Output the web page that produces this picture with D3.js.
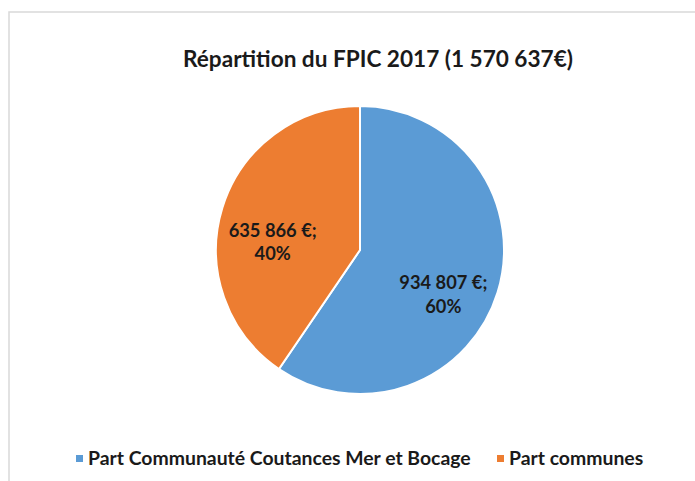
<!DOCTYPE html>
<html>
<head>
<meta charset="utf-8">
<script src="https://cdn.jsdelivr.net/npm/d3@7"></script>
<style>
  body { margin:0; background:#fff; }
  text { font-family: Lato, "Open Sans", sans-serif; font-weight:bold; fill:#1a1a1a; }
</style>
</head>
<body>
<div class="canvas"></div>
<script>
/* FPIC 2017 pie */

var categories = ["Part Communauté Coutances Mer et Bocage", "Part communes"];
var values = [934807, 635866];
var valueLabels = ["934 807 €;", "635 866 €;"];
var pctLabels = ["60%", "40%"];
var colors = ["#5B9BD5", "#ED7D31"];
var title = "Répartition du FPIC 2017 (1 570 637€)";

var width = 695, height = 481;
var cx = 360, cy = 250, r = 144;

var svg = d3.select('.canvas')
    .append('svg')
    .attr('width', width)
    .attr('height', height);

// chart frame (only top/left visible in the crop)
svg.append('rect')
    .attr('x', 9).attr('y', 12)
    .attr('width', 720).attr('height', 500)
    .style('fill', 'none')
    .style('stroke', '#d9d9d9')
    .style('stroke-width', 1.5);

svg.append('text')
    .attr('x', 378).attr('y', 67)
    .attr('text-anchor', 'middle')
    .style('font-size', '22.6px')
    .text(title);

var data = categories.map(function(c, i){
    return {name:c, value:values[i], label:valueLabels[i], pct:pctLabels[i], color:colors[i]};
});

var pie = d3.pie().sort(null).value(function(d){ return d.value; });
var arc = d3.arc().innerRadius(0).outerRadius(r);
var labelArc = d3.arc().innerRadius(r*0.62).outerRadius(r*0.62);

var g = svg.append('g')
    .attr('transform', 'translate(' + cx + ',' + cy + ')');

var slices = pie(data);

g.selectAll('path')
    .data(slices)
    .enter()
    .append('path')
    .attr('d', arc)
    .style('fill', function(d){ return d.data.color; })
    .style('stroke', '#fff')
    .style('stroke-width', 2);

var labels = g.selectAll('.lbl')
    .data(slices)
    .enter()
    .append('text')
    .attr('class', 'lbl')
    .attr('text-anchor', 'middle')
    .style('font-size', '18.3px')
    .attr('transform', function(d){
        var c = labelArc.centroid(d);
        return 'translate(' + (c[0] - 2) + ',' + c[1] + ')';
    });
labels.append('tspan').attr('x', 0).attr('dy', '0.7em').text(function(d){ return d.data.label; });
labels.append('tspan').attr('x', 0).attr('dy', '1.3em').text(function(d){ return d.data.pct; });

// legend
var legendX = [76, 497];
var legend = svg.selectAll('.legend')
    .data(data)
    .enter()
    .append('g')
    .attr('class', 'legend')
    .attr('transform', function(d, i){ return 'translate(' + legendX[i] + ',465)'; });
legend.append('rect')
    .attr('x', 0).attr('y', -10)
    .attr('width', 7).attr('height', 7)
    .style('fill', function(d){ return d.color; });
legend.append('text')
    .attr('x', 12).attr('y', 0)
    .style('font-size', '19.4px')
    .text(function(d){ return d.name; });
</script>
</body>
</html>
